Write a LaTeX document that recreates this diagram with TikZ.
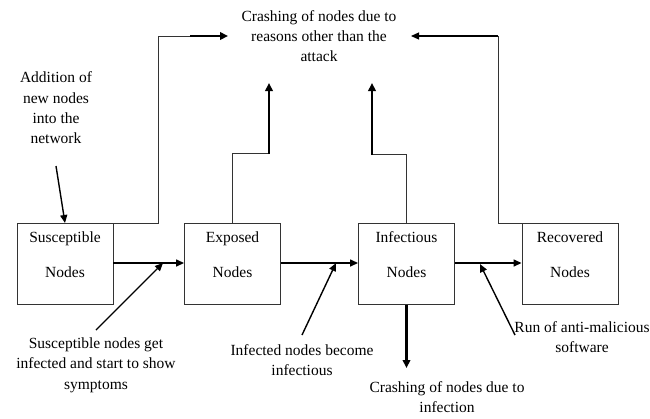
\documentclass[tikz,border=0pt]{standalone}
\usepackage{fontspec}
\setmainfont{Liberation Serif}
\usetikzlibrary{arrows.meta}
\begin{document}
\begin{tikzpicture}[x=1pt,y=-1pt,
  box/.style={draw=black!80,line width=0.9pt,align=center,anchor=north,
    minimum width=96pt,inner xsep=0pt,inner ysep=8.5pt,text height=45.5pt,text depth=18.5pt,
    font=\fontsize{15.5}{35}\selectfont},
  lbl/.style={align=center,font=\fontsize{15.5}{20.3}\selectfont,inner sep=0pt},
  thinl/.style={draw=black!80,line width=0.9pt},
  med/.style={draw=black,line width=1.4pt,-{Triangle[length=8pt,width=7pt]}},
  thk/.style={draw=black,line width=2.4pt,-{Triangle[length=8pt,width=7.5pt]}}]
\useasboundingbox (0,0) rectangle (650,418);
% boxes
\node[box] (S) at (65,223) {Susceptible\\Nodes};
\node[box] (E) at (232.5,223) {Exposed\\Nodes};
\node[box] (I) at (406.5,223) {Infectious\\Nodes};
\node[box] (R) at (570,223) {Recovered\\Nodes};
% texts
\node[lbl] (top) at (319,36) {Crashing of nodes due to\\reasons other than the\\attack};
\node[lbl] (add) at (56,108) {Addition of\\new nodes\\into the\\network};
\node[lbl] (sng) at (96,365) {Susceptible nodes get\\infected and start to show\\symptoms};
\node[lbl] (inb) at (302,360) {Infected nodes become\\infectious};
\node[lbl] (cri) at (447,397) {Crashing of nodes due to\\infection};
\node[lbl] (run) at (582,337) {Run of anti-malicious\\software};
% coordinates
\coordinate (a1) at (228,36);
\coordinate (a2) at (269,83);
\coordinate (a3) at (372,83);
\coordinate (a4) at (411,36);
\coordinate (a5) at (406.5,368);
\coordinate (p1) at (56,166);
\coordinate (p2) at (96,330);
\coordinate (p3) at (302,335);
\coordinate (p4) at (515,335);
\coordinate (q2) at (163,263);
\coordinate (q3) at (336,263);
\coordinate (q4) at (480,264);
% main flow
\draw[med] (S.east |- 0,263) -- (E.west |- 0,263);
\draw[med] (E.east |- 0,263) -- (I.west |- 0,263);
\draw[med] (I.east |- 0,263) -- (R.west |- 0,263);
% crash paths
\draw[thinl] (S.north east) -- (158,223) -- (158,36) -- (190,36);
\draw[thk,line width=2pt] (190,36) -- (a1);
\draw[thinl] (E.north) -- (232.5,153) -- (269,153);
\draw[thk] (269,154) -- (a2);
\draw[thinl] (I.north) -- (406.5,154) -- (372,154);
\draw[thk] (372,155) -- (a3);
\draw[thinl] (R.north west) -- (498,223) -- (498,36);
\draw[med,line width=1.2pt] (498,36) -- (a4);
\draw[thk] (I.south) -- (a5);
% label pointers
\draw[med] (p1) -- (S.north);
\draw[med] (p2) -- (q2);
\draw[med] (p3) -- (q3);
\draw[med] (p4) -- (q4);
\end{tikzpicture}
\end{document}
